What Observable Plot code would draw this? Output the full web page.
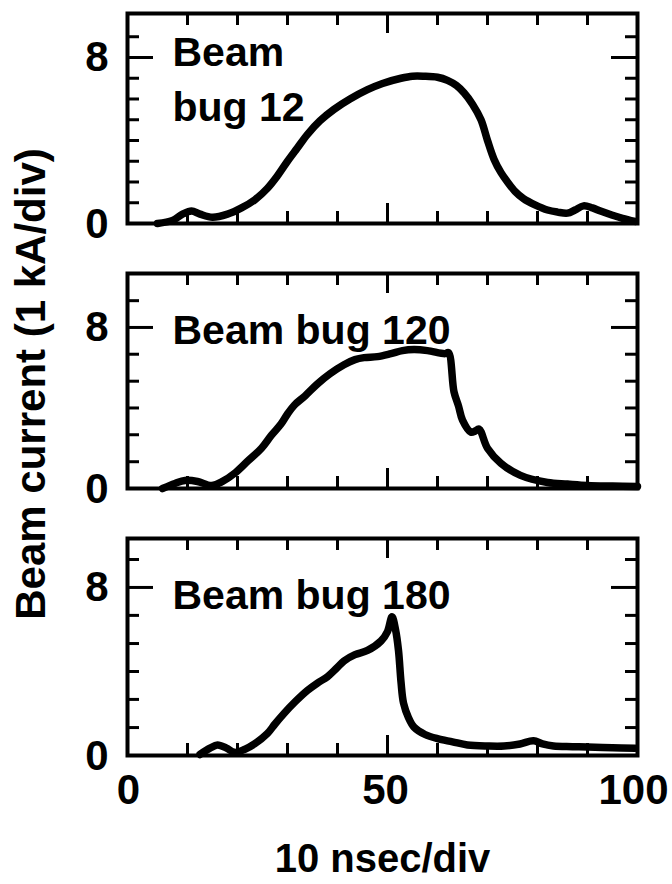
<!DOCTYPE html>
<html><head><meta charset="utf-8">
<script src="https://cdn.jsdelivr.net/npm/d3@7"></script>
<script src="https://cdn.jsdelivr.net/npm/@observablehq/plot@0.6"></script>
<style>
html,body{margin:0;padding:0;background:#fff;}
#wrap{position:relative;width:672px;height:884px;overflow:hidden;font-family:"Liberation Sans",Arial,sans-serif;font-weight:bold;color:#000;}
#wrap svg{display:block;}
#ytitle{position:absolute;z-index:2;left:31px;top:384px;transform:translate(-50%,-50%) rotate(-90deg);white-space:nowrap;font-size:42px;line-height:1;}
</style></head><body>
<div id="wrap"><div id="ytitle">Beam current (1 kA/div)</div></div>
<script>
// ---- data (x in ns-divisions 0..100, y in kA) ----
const panelLabels = ["Beam\nbug 12", "Beam bug 120", "Beam bug 180"];
const xTickLabels = [0, 50, 100];
const yTickLabels = [0, 8];
const xTicks = [10, 20, 30, 40, 50, 60, 70, 80, 90];
const yTicks12 = [1, 2, 3, 4, 5, 6, 7, 8, 9];
const yTicks120 = [1.33, 2.67, 4, 5.33, 6.67, 8, 9.33];
const yTicks180 = [1.33, 2.67, 4, 5.33, 6.67, 8, 9.33];

const bug12X = [4, 7, 9, 10.8, 12.5, 15, 18, 20.8, 23.5, 26, 28, 30, 32, 34, 36.5, 39.3, 42.5, 46, 49, 52.7, 55, 57.3, 60, 62, 63.8, 65.3, 67, 68.7, 70, 71.3, 72.7, 74, 75.5, 77.2, 79.5, 82, 84, 86, 87.5, 89.2, 91, 92.6, 95, 97, 99.5];
const bug12Y = [0.0, 0.15, 0.45, 0.6, 0.45, 0.3, 0.45, 0.75, 1.15, 1.7, 2.3, 3.0, 3.65, 4.3, 4.95, 5.5, 6.0, 6.45, 6.75, 7.0, 7.1, 7.1, 7.05, 6.9, 6.65, 6.3, 5.75, 5.0, 4.0, 3.1, 2.45, 2.0, 1.55, 1.2, 0.9, 0.65, 0.55, 0.5, 0.65, 0.85, 0.75, 0.6, 0.4, 0.25, 0.1];

const bug120X = [5, 7.5, 9.5, 12, 14.8, 17, 19.4, 22, 24.8, 26.8, 28.7, 30, 31.4, 33.5, 36, 38.5, 41.3, 43.5, 45.3, 48, 50.7, 53, 55.3, 58, 61.5, 62.2, 63.3, 64.2, 65, 66.7, 67.5, 68.3, 70, 72.7, 76.6, 82, 86, 90, 95, 100];
const bug120Y = [0.0, 0.25, 0.4, 0.35, 0.15, 0.35, 0.75, 1.35, 2.0, 2.65, 3.2, 3.7, 4.15, 4.6, 5.2, 5.7, 6.15, 6.4, 6.5, 6.55, 6.7, 6.85, 6.9, 6.85, 6.7, 6.75, 4.8, 4.1, 3.4, 2.8, 2.85, 2.95, 2.0, 1.25, 0.65, 0.3, 0.22, 0.15, 0.12, 0.1];

const bug180X = [12.5, 14.5, 16, 17.8, 19.4, 21.5, 23.4, 26, 27.5, 29.3, 31.5, 34, 36, 38, 39.8, 41.3, 43.5, 46, 48.7, 50, 50.9, 51.6, 52.2, 52.7, 53.2, 54.2, 55.3, 57.5, 60, 63, 66, 70, 73.3, 76.5, 79.2, 81, 83.2, 87, 90, 95, 99.5];
const bug180Y = [0.05, 0.35, 0.5, 0.35, 0.15, 0.3, 0.55, 1.05, 1.5, 2.0, 2.55, 3.1, 3.45, 3.75, 4.15, 4.5, 4.8, 5.0, 5.45, 5.9, 6.6, 6.0, 5.0, 3.5, 2.5, 1.8, 1.35, 1.0, 0.8, 0.65, 0.5, 0.45, 0.45, 0.55, 0.7, 0.55, 0.45, 0.42, 0.4, 0.37, 0.35];

// ---- drawing ----
const FONT = '"Liberation Sans", Arial, sans-serif';
const W = 672, ML = 127, MR = 35;
const X0 = -2, X1 = 100;
const pxPerX = (W - ML - MR) / (X1 - X0);
const xLabelShift = [-9, -2, -4];

function panel({xs, ys, yMax, yTicks, label, labelDy, mt, mb, height, bottom}) {
  const pxPerY = (height - mt - mb) / yMax;
  const ly = px => px / pxPerY;   // pixel length -> y units
  const lx = px => px / pxPerX;   // pixel length -> x units
  const xLen = d => (d === 50 ? 20 : 12);
  const yLen = d => (d === 8 ? 26 : 12);
  const pts = xs.map((x, i) => ({x, y: ys[i]}));
  const marks = [
    Plot.frame({stroke: "#000", strokeWidth: 4}),
    // inward ticks: bottom, top, left, right
    Plot.ruleX(xTicks, {x: d => d, y1: 0, y2: d => ly(xLen(d)), stroke: "#000", strokeWidth: 3}),
    Plot.ruleX(xTicks, {x: d => d, y1: yMax, y2: d => yMax - ly(xLen(d)), stroke: "#000", strokeWidth: 3}),
    Plot.ruleY(yTicks, {y: d => d, x1: X0, x2: d => X0 + lx(yLen(d)), stroke: "#000", strokeWidth: 3}),
    Plot.ruleY(yTicks, {y: d => d, x1: X1, x2: d => X1 - lx(yLen(d)), stroke: "#000", strokeWidth: 3}),
    Plot.line(pts, {x: "x", y: "y", stroke: "#000", strokeWidth: 7.5, curve: "catmull-rom", strokeLinejoin: "round", strokeLinecap: "round"}),
    Plot.text([label], {text: d => d, frameAnchor: "top-left", textAnchor: "start", lineAnchor: "top", dx: 45, dy: labelDy, fontSize: 41, fontWeight: "bold", lineHeight: 1.33, fill: "#000"}),
    Plot.axisY({ticks: [yTickLabels[1]], tickSize: 0, tickPadding: 19, fontSize: 42, fontWeight: "bold", tickFormat: d => String(d), label: null}),
    Plot.axisY({ticks: [yTickLabels[0]], tickSize: 0, tickPadding: 19, fontSize: 42, fontWeight: "bold", dy: 1, tickFormat: d => String(d), label: null})
  ];
  if (bottom) {
    xTickLabels.forEach((t, i) => {
      marks.push(Plot.axisX({ticks: [t], tickSize: 0, tickPadding: 19, fontSize: 42, fontWeight: "bold", dx: xLabelShift[i], tickFormat: d => String(d), label: null}));
    });
    marks.push(Plot.text(["10 nsec/div"], {text: d => d, frameAnchor: "bottom", lineAnchor: "middle", dx: 0, dy: 104, fontSize: 40, fontWeight: "bold", fill: "#000"}));
  }
  return Plot.plot({
    width: W, height, marginLeft: ML, marginRight: MR, marginTop: mt, marginBottom: mb,
    x: {domain: [X0, X1], axis: null},
    y: {domain: [0, yMax], axis: null},
    style: {fontFamily: FONT, fontWeight: "bold", color: "#000", background: "#fff", overflow: "visible"},
    marks
  });
}

const wrap = document.getElementById("wrap");
wrap.appendChild(panel({xs: bug12X, ys: bug12Y, yMax: 10.12, yTicks: yTicks12, label: panelLabels[0], labelDy: 14, mt: 13, mb: 23, height: 246}));
wrap.appendChild(panel({xs: bug120X, ys: bug120Y, yMax: 10.68, yTicks: yTicks120, label: panelLabels[1], labelDy: 32, mt: 27, mb: 26, height: 268}));
wrap.appendChild(panel({xs: bug180X, ys: bug180Y, yMax: 10.33, yTicks: yTicks180, label: panelLabels[2], labelDy: 32, mt: 24, mb: 129, height: 370, bottom: true}));
</script>
</body></html>
